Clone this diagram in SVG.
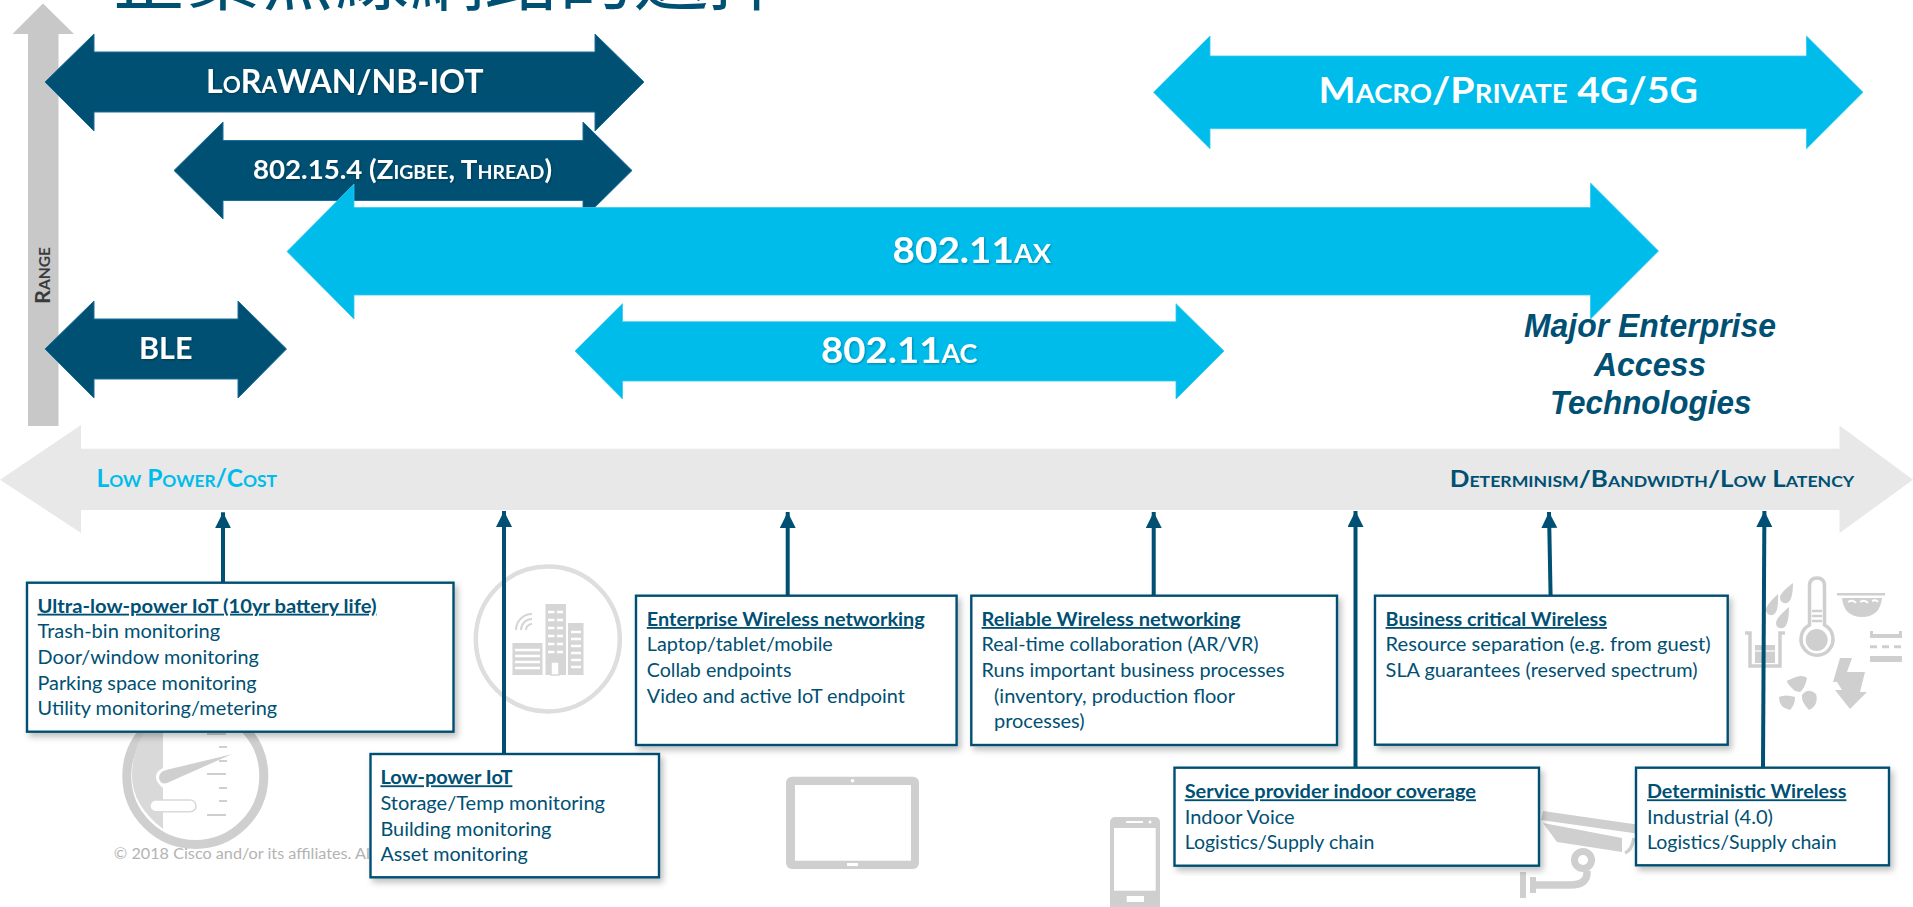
<svg xmlns="http://www.w3.org/2000/svg" width="1913" height="907" viewBox="0 0 1913 907">
<style>
text{font-family:"Lato","Liberation Sans",sans-serif}
.title{font-family:"Noto Sans CJK TC","Noto Sans CJK SC",sans-serif;font-size:74px;font-weight:400;fill:#005073}
.dk{fill:#005073;stroke:#1a6f9c;stroke-width:1}
.cy{fill:#00bceb;stroke:#33c9ef;stroke-width:.8}
.lbl{font-weight:700;fill:#fff;font-variant:small-caps;filter:url(#ts)}
.cap{font-weight:700;font-variant:small-caps}
.box{fill:#fff;stroke:#005073;stroke-width:2.4;filter:url(#sh)}
.h{font-size:18.5px;font-weight:700;fill:#005073;text-decoration:underline}
.t{font-size:18.5px;fill:#005073}
.maj{font-family:"Liberation Sans",Arial,sans-serif;font-size:33px;font-weight:700;font-style:italic;fill:#005073;text-anchor:middle}
.ln{stroke:#005073;stroke-width:4;fill:none}
.ic{fill:#cfcfcf}
.icl{fill:none;stroke:#cfcfcf}
.lt{fill:#d9d9d9}
</style>
<defs>
<filter id="sh" x="-5%" y="-5%" width="112%" height="115%"><feDropShadow dx="3" dy="4" stdDeviation="3" flood-color="#000" flood-opacity=".25"/></filter>
<filter id="ts" x="-5%" y="-10%" width="110%" height="130%"><feDropShadow dx="1" dy="1" stdDeviation="1" flood-color="#000" flood-opacity=".3"/></filter>
<marker id="ah" markerUnits="userSpaceOnUse" markerWidth="16" markerHeight="17" refX="16" refY="8" orient="auto"><path d="M0 0L16 8L0 16Z" fill="#005073"/></marker>
</defs>

<text id="title" class="title" x="111" y="4" textLength="672" lengthAdjust="spacingAndGlyphs">企業無線網路的選擇</text>

<g id="icon-gauge">
<ellipse cx="195.3" cy="776" rx="68.5" ry="68.5" fill="none" stroke="#cfcfcf" stroke-width="9"/>
<path class="lt" d="M163 725V768Q155 772 156 778Q157 783 163 788V829Q132 805 132 776Q132 745 150 725Z"/>
<path class="ic" d="M231.7 754.3L166 770Q159 772 159 778Q160 785 167 783Z"/>
<path d="M207 734h19M219 747h8M219 761h8M207 774h19M219 788h8M219 801h8M207 815h19" stroke="#cfcfcf" stroke-width="2" fill="none"/>
<rect x="150" y="800" width="46" height="11.7" rx="5.8" fill="#fff" stroke="#d9d9d9" stroke-width="1.5"/>
</g>
<g id="icon-building">
<ellipse cx="547.8" cy="639" rx="72" ry="72.5" fill="none" stroke="#dedede" stroke-width="4.5"/>
<path d="M516 630a16 16 0 0 1 16-16M521 630a11 11 0 0 1 11-11M526 630a6 6 0 0 1 6-6" fill="none" stroke="#d5d5d5" stroke-width="2"/>
<path fill="#d6d6d6" d="M512.5 643h30v32h-30zM545.5 604h20.500v71h-20.500zM568 623h15.500v52h-15.500z"/>
<path d="M515 650h25M515 656h25M515 662h25M515 668h25M571 632h10M571 639h10M571 646h10M571 653h10M571 660h10M571 667h10M548 612h15M548 620h15M548 628h15M548 636h15M548 644h15M548 652h15" stroke="#fff" stroke-width="2.500" fill="none"/>
<path d="M555.700 604v50" stroke="#d6d6d6" stroke-width="2.500"/>
<rect x="551" y="662" width="8" height="13" fill="#fff" stroke="#d6d6d6" stroke-width="1.500"/>
</g>
<g id="icon-tablet">
<rect x="786" y="776.700" width="133" height="92.300" rx="6" class="ic"/>
<rect x="795" y="785" width="116" height="75.700" fill="#fff"/>
<circle cx="852.500" cy="780.800" r="1.800" fill="#fff"/>
<rect x="847" y="863" width="11" height="3" fill="#fff"/>
</g>
<g id="icon-phone">
<rect x="1110" y="817" width="50" height="95" rx="5" class="ic"/>
<rect x="1114" y="828" width="41.700" height="62.700" fill="#fff"/>
<rect x="1126.700" y="896" width="17.300" height="6" fill="#fff"/>
<rect x="1126" y="821" width="17" height="2" fill="#fff"/>
<circle cx="1150" cy="822" r="1.500" fill="#fff"/>
</g>
<g id="icon-camera">
<path class="ic" d="M1543 811L1640 825V834L1541 820ZM1543 823L1622 838V852L1557 842ZM1623 852L1631 839"/>
<path d="M1625 853Q1632 850 1634 838" fill="none" stroke="#cfcfcf" stroke-width="3.500"/>
<circle cx="1583" cy="860" r="8.500" fill="none" stroke="#cfcfcf" stroke-width="7"/>
<path d="M1587 871Q1588 885 1570 885H1534" fill="none" stroke="#cfcfcf" stroke-width="7.500"/>
<path class="ic" d="M1530 877h6v16h-6zM1520 872h6v26h-6z"/>
</g>
<g id="icon-industrial">
<path class="ic" d="M1793 583Q1780 593 1780 597Q1780 604 1787 603Q1793 601 1793 583ZM1778 594Q1767 604 1766 609Q1766 616 1773 615Q1779 613 1778 594ZM1789 607Q1776 618 1776 623Q1776 629 1783 628Q1789 626 1789 607Z"/>
<path class="icl" stroke-width="3.500" d="M1809.500 625V586Q1809.500 578 1817 578Q1824.500 578 1824.500 586V625A16 16 0 1 1 1809.500 625Z"/>
<circle cx="1816.700" cy="640" r="11" class="ic"/>
<path d="M1812 611h10M1812 616h10M1812 621h10" stroke="#cfcfcf" stroke-width="2.500"/>
<path class="icl" stroke-width="3.500" d="M1745 633H1750V666H1780V633H1785"/>
<rect x="1755" y="645" width="20" height="18" class="ic"/>
<path d="M1755 651h20" stroke="#fff" stroke-width="1.200"/>
<path d="M1837 594.300h48" stroke="#cfcfcf" stroke-width="2.500"/>
<path class="ic" d="M1842 598H1882Q1880 617 1862 617Q1844 617 1842 598Z"/>
<path d="M1848 602q5-3 8 1M1860 602q5-3 8 1M1872 601q4-2 6 1" fill="none" stroke="#fff" stroke-width="2"/>
<path class="ic" d="M1870 631h3v3h26v-3h3v7h-32zM1870 656h32v6h-32z"/>
<path d="M1870 646.700h7M1882 646.700h7M1894 646.700h7" stroke="#cfcfcf" stroke-width="3"/>
<path class="ic" d="M1840 658H1852L1847 672H1865L1860 692H1867L1850 709L1835 690H1842L1837 682H1833Z"/>
<path class="ic" d="M1795 691Q1783 680 1789 680Q1802 673 1807 678Q1805 688 1800 692ZM1795 697Q1785 694 1779 697Q1779 708 1790 710Q1795 705 1795 697ZM1802 695Q1801 702 1809 710Q1819 705 1816 694Q1808 687 1802 695Z"/>
</g>
<text id="footer" x="113.800" y="859" font-size="15.500" fill="#b3b3b3" textLength="256" lengthAdjust="spacingAndGlyphs">© 2018  Cisco and/or its affiliates. Al</text>

<g id="axis-range">
<path fill="#c8c8c8" d="M43 3.500L74 34H58.500V426H28V34H12.500Z"/>
<text class="cap" transform="translate(49.500 304) rotate(-90)" font-size="21" fill="#3a3a3a" textLength="57" lengthAdjust="spacingAndGlyphs">Range</text>
</g>
<g id="axis-cost">
<path fill="#e8e8e8" d="M0 479.700L81 425V448.700H1839.500V425.500L1913 479.700L1839.500 533V510H81V533Z"/>
<text class="cap" x="96.400" y="487.300" font-size="24" fill="#00bceb" textLength="180.600" lengthAdjust="spacingAndGlyphs">Low Power/Cost</text>
<text class="cap" x="1449.700" y="486.700" font-size="22" fill="#005073" textLength="404.600" lengthAdjust="spacingAndGlyphs">Determinism/Bandwidth/Low Latency</text>
</g>

<g id="lorawan">
<path class="dk" d="M45 82L94 34V52H595V34L644 82L595 131V112H94V131Z"/>
<text class="lbl" x="206" y="92.700" font-size="31.500" textLength="277.500" lengthAdjust="spacingAndGlyphs">LoRaWAN/NB-IOT</text>
</g>
<g id="zigbee">
<path class="dk" d="M174 170.500L223 122V140.500H583V122L632 170.500L583 219V200.500H223V219Z"/>
<text class="lbl" x="253" y="179.300" font-size="27" textLength="299" lengthAdjust="spacingAndGlyphs">802.15.4 (Zigbee, Thread)</text>
</g>
<g id="ax">
<path class="cy" d="M287 251.500L354 184V207.500H1590.500V183L1658.500 251L1590.500 319V295H354V319Z"/>
<text class="lbl" x="892.600" y="262.700" font-size="37" textLength="158.400" lengthAdjust="spacingAndGlyphs">802.11ax</text>
</g>
<g id="ble">
<path class="dk" d="M45 349L94 301V319H238V301L286.500 349L238 398V379H94V398Z"/>
<text class="lbl" x="139" y="359" font-size="30" textLength="53.400" lengthAdjust="spacingAndGlyphs">BLE</text>
</g>
<g id="ac">
<path class="cy" d="M575 351L622.500 303.700V321.700H1176V303.700L1224 351L1176 399V381H622.500V399Z"/>
<text class="lbl" x="821" y="363.300" font-size="37" textLength="156.400" lengthAdjust="spacingAndGlyphs">802.11ac</text>
</g>
<g id="macro">
<path class="cy" d="M1153.500 92.300L1210 36V56H1806.500V36L1863 92.300L1806.500 148.700V128.700H1210V148.700Z"/>
<text class="lbl" x="1318.500" y="103.300" font-size="37" textLength="379.500" lengthAdjust="spacingAndGlyphs" style="filter:none">Macro/Private 4G/5G</text>
</g>
<g id="major">
<text class="maj" x="1650" y="336.700" textLength="252" lengthAdjust="spacingAndGlyphs">Major Enterprise</text>
<text class="maj" x="1650" y="375.700" textLength="112" lengthAdjust="spacingAndGlyphs">Access</text>
<text class="maj" x="1650.700" y="414" textLength="201.500" lengthAdjust="spacingAndGlyphs">Technologies</text>
</g>

<g id="connectors">
<path class="ln" marker-end="url(#ah)" d="M223 582L223 512.300"/>
<path class="ln" marker-end="url(#ah)" d="M504 754L504 511"/>
<path class="ln" marker-end="url(#ah)" d="M787.700 596L787.700 512"/>
<path class="ln" marker-end="url(#ah)" d="M1153.700 596L1153.700 512"/>
<path class="ln" marker-end="url(#ah)" d="M1355.500 768L1355.500 511"/>
<path class="ln" marker-end="url(#ah)" d="M1550.600 596L1549 512"/>
<path class="ln" marker-end="url(#ah)" d="M1763 768L1764.400 511"/>
</g>

<g id="box-ultra">
<rect class="box" x="27" y="582.700" width="426.500" height="149"/>
<text class="h" x="37.500" y="612.700" textLength="339" lengthAdjust="spacingAndGlyphs">Ultra-low-power IoT (10yr battery life)</text>
<text class="t" x="37.500" y="638" textLength="182.600" lengthAdjust="spacingAndGlyphs">Trash-bin monitoring</text>
<text class="t" x="37.500" y="664" textLength="221.400" lengthAdjust="spacingAndGlyphs">Door/window monitoring</text>
<text class="t" x="37.500" y="690" textLength="219" lengthAdjust="spacingAndGlyphs">Parking space monitoring</text>
<text class="t" x="37.500" y="715" textLength="239.700" lengthAdjust="spacingAndGlyphs">Utility monitoring/metering</text>
</g>
<g id="box-low">
<rect class="box" x="370.500" y="754" width="288.500" height="123.300"/>
<text class="h" x="380.400" y="784.300" textLength="132" lengthAdjust="spacingAndGlyphs">Low-power IoT</text>
<text class="t" x="380.400" y="810" textLength="224.600" lengthAdjust="spacingAndGlyphs">Storage/Temp monitoring</text>
<text class="t" x="380.400" y="835.700" textLength="171" lengthAdjust="spacingAndGlyphs">Building monitoring</text>
<text class="t" x="380.400" y="861" textLength="147.300" lengthAdjust="spacingAndGlyphs">Asset monitoring</text>
</g>
<g id="box-enterprise">
<rect class="box" x="636" y="595.700" width="320.600" height="149.300"/>
<text class="h" x="646.800" y="626" textLength="278" lengthAdjust="spacingAndGlyphs">Enterprise Wireless networking</text>
<text class="t" x="646.800" y="651.300" textLength="186" lengthAdjust="spacingAndGlyphs">Laptop/tablet/mobile</text>
<text class="t" x="646.800" y="677.300" textLength="144.600" lengthAdjust="spacingAndGlyphs">Collab endpoints</text>
<text class="t" x="646.800" y="703.300" textLength="258" lengthAdjust="spacingAndGlyphs">Video and active IoT endpoint</text>
</g>
<g id="box-reliable">
<rect class="box" x="971.300" y="595.700" width="365.700" height="149.300"/>
<text class="h" x="981.600" y="626" textLength="259" lengthAdjust="spacingAndGlyphs">Reliable Wireless networking</text>
<text class="t" x="981.600" y="651.300" textLength="277" lengthAdjust="spacingAndGlyphs">Real-time collaboration (AR/VR)</text>
<text class="t" x="981.600" y="677.300" textLength="303" lengthAdjust="spacingAndGlyphs">Runs important business processes</text>
<text class="t" x="994" y="703.300" textLength="241" lengthAdjust="spacingAndGlyphs">(inventory, production floor</text>
<text class="t" x="994" y="728.300" textLength="90.600" lengthAdjust="spacingAndGlyphs">processes)</text>
</g>
<g id="box-business">
<rect class="box" x="1375" y="595.700" width="352.700" height="149"/>
<text class="h" x="1385.600" y="626" textLength="221.300" lengthAdjust="spacingAndGlyphs">Business critical Wireless</text>
<text class="t" x="1385.600" y="651.300" textLength="325" lengthAdjust="spacingAndGlyphs">Resource separation (e.g. from guest)</text>
<text class="t" x="1385.600" y="677.300" textLength="312" lengthAdjust="spacingAndGlyphs">SLA guarantees (reserved spectrum)</text>
</g>
<g id="box-service">
<rect class="box" x="1174.500" y="767.700" width="364.500" height="98"/>
<text class="h" x="1184.700" y="798.300" textLength="291.300" lengthAdjust="spacingAndGlyphs">Service provider indoor coverage</text>
<text class="t" x="1184.700" y="824.300" textLength="110" lengthAdjust="spacingAndGlyphs">Indoor Voice</text>
<text class="t" x="1184.700" y="849.300" textLength="189.600" lengthAdjust="spacingAndGlyphs">Logistics/Supply chain</text>
</g>
<g id="box-deterministic">
<rect class="box" x="1636" y="767.700" width="253" height="97.600"/>
<text class="h" x="1647" y="798.300" textLength="199.400" lengthAdjust="spacingAndGlyphs">Deterministic Wireless</text>
<text class="t" x="1647" y="824.300" textLength="126" lengthAdjust="spacingAndGlyphs">Industrial (4.0)</text>
<text class="t" x="1647" y="849.300" textLength="189.600" lengthAdjust="spacingAndGlyphs">Logistics/Supply chain</text>
</g>
</svg>
